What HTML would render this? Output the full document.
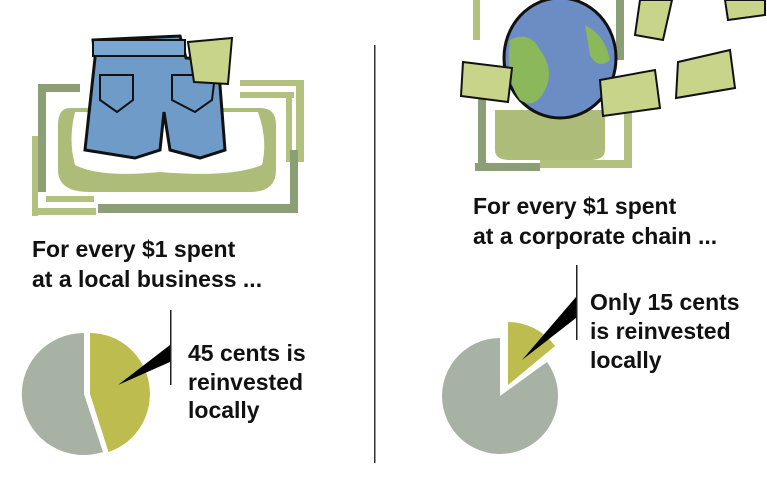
<!DOCTYPE html>
<html><head><meta charset="utf-8"><style>
html,body{margin:0;padding:0;background:#fff;}
svg{display:block}
text{font-family:"Liberation Sans",sans-serif;font-weight:bold;fill:#111;}
</style></head><body>
<svg width="767" height="485" viewBox="0 0 767 485" xmlns="http://www.w3.org/2000/svg">
<!-- left frame -->
<rect x="38" y="84" width="42" height="8" fill="#8c9e76"/>
<rect x="38" y="84" width="8" height="108" fill="#8c9e76"/>
<rect x="32" y="136" width="6" height="80" fill="#b3c17f"/>
<rect x="32" y="208" width="64" height="7" fill="#b3c17f"/>
<rect x="46" y="196" width="48" height="6" fill="#b3c17f"/>
<rect x="98" y="204" width="200" height="9" fill="#8c9e76"/>
<rect x="240" y="80" width="64" height="6" fill="#b3c17f"/>
<rect x="240" y="92" width="54" height="6" fill="#b3c17f"/>
<rect x="296" y="80" width="8" height="82" fill="#b3c17f"/>
<rect x="286" y="92" width="6" height="70" fill="#b3c17f"/>
<rect x="290" y="150" width="8" height="63" fill="#8c9e76"/>
<path d="M70 108 Q58 108 58 125 L58 170 Q58 192 90 192 L250 192 Q276 192 276 170 L276 125 Q276 108 260 108 Z" fill="#adbc78"/>
<path d="M75 112 L258 112 Q268 140 262 165 Q230 178 160 172 Q100 178 75 165 Q68 140 75 112 Z" fill="#fff"/>
<!-- jeans -->
<path d="M93 40 L180 36 L186 58 L218 60 L225 150 L200 158 L170 150 L164 112 L160 150 L135 158 L85 150 L95 58 Z" fill="#6f9bc8" stroke="#111" stroke-width="3"/>
<rect x="93" y="40" width="92" height="16" fill="#7aa6d2" stroke="#111" stroke-width="2"/>
<path d="M100 75 L133 75 L133 100 L117 112 L100 100 Z" fill="#6f9bc8" stroke="#111" stroke-width="2"/>
<path d="M172 75 L215 75 L212 100 L195 112 L172 100 Z" fill="#6f9bc8" stroke="#111" stroke-width="2"/>
<path d="M188 42 L232 38 L228 84 L194 82 Z" fill="#c7d48a" stroke="#111" stroke-width="2"/>
<!-- divider -->
<rect x="374" y="45" width="1.5" height="418" fill="#333"/>
<!-- right frame -->
<rect x="473" y="0" width="7" height="40" fill="#b3c17f"/>
<rect x="478" y="92" width="8" height="76" fill="#8c9e76"/>
<rect x="475" y="163" width="65" height="8" fill="#8c9e76"/>
<rect x="540" y="160" width="92" height="8" fill="#b3c17f"/>
<rect x="624" y="90" width="8" height="78" fill="#b3c17f"/>
<rect x="616" y="0" width="8" height="60" fill="#8c9e76"/>
<path d="M495 110 L605 110 L605 150 Q605 160 590 160 L510 160 Q495 160 495 150 Z" fill="#adbc78"/>
<!-- globe -->
<ellipse cx="560" cy="58" rx="56" ry="60" fill="#6b8dc4" stroke="#111" stroke-width="3"/>
<path d="M510 40 Q530 30 540 50 Q555 70 545 90 Q535 110 520 100 Q505 80 510 40 Z" fill="#8ab85a"/>
<path d="M585 25 Q605 35 610 60 Q598 70 590 55 Z" fill="#8ab85a"/>
<!-- bills -->
<path d="M463 62 L512 68 L508 102 L461 96 Z" fill="#c7d48a" stroke="#111" stroke-width="2"/>
<path d="M600 80 L655 70 L660 108 L603 116 Z" fill="#c7d48a" stroke="#111" stroke-width="2"/>
<path d="M678 62 L730 50 L735 88 L676 98 Z" fill="#c7d48a" stroke="#111" stroke-width="2"/>
<path d="M640 0 L672 0 L663 40 L635 35 Z" fill="#c7d48a" stroke="#111" stroke-width="2"/>
<path d="M725 0 L765 0 L765 15 L728 20 Z" fill="#c7d48a" stroke="#111" stroke-width="2"/>
<!-- texts -->
<text x="32" y="257" font-size="23">For every $1 spent</text>
<text x="32" y="287" font-size="23">at a local business  ...</text>
<text x="473" y="214" font-size="23">For every $1 spent</text>
<text x="473" y="244" font-size="23">at a corporate chain ...</text>
<!-- left pie -->
<path d="M84 333 A62 61 0 1 0 103 452 L84 394 Z" fill="#a8b2a4"/>
<path d="M90 333 A60 61 0 0 1 108.5 452 L90 394 Z" fill="#bcbd4e"/>
<path d="M118 385 L170 345 L170 362 Z" fill="#000"/>
<rect x="170" y="310" width="1.5" height="75" fill="#222"/>
<text x="188" y="361" font-size="23">45 cents is</text>
<text x="188" y="390" font-size="23">reinvested</text>
<text x="188" y="418" font-size="23">locally</text>
<!-- right pie -->
<path d="M500 338 A58 58 0 1 0 547 362 L500 396 Z" fill="#a8b2a4"/>
<path d="M508 322 A58 58 0 0 1 555 346 L508 385 Z" fill="#bcbd4e"/>
<path d="M522 360 L576 297 L576 318 Z" fill="#000"/>
<rect x="576" y="265" width="1.5" height="75" fill="#222"/>
<text x="590" y="310" font-size="23">Only 15 cents</text>
<text x="590" y="339" font-size="23">is reinvested</text>
<text x="590" y="368" font-size="23">locally</text>
</svg>
</body></html>
